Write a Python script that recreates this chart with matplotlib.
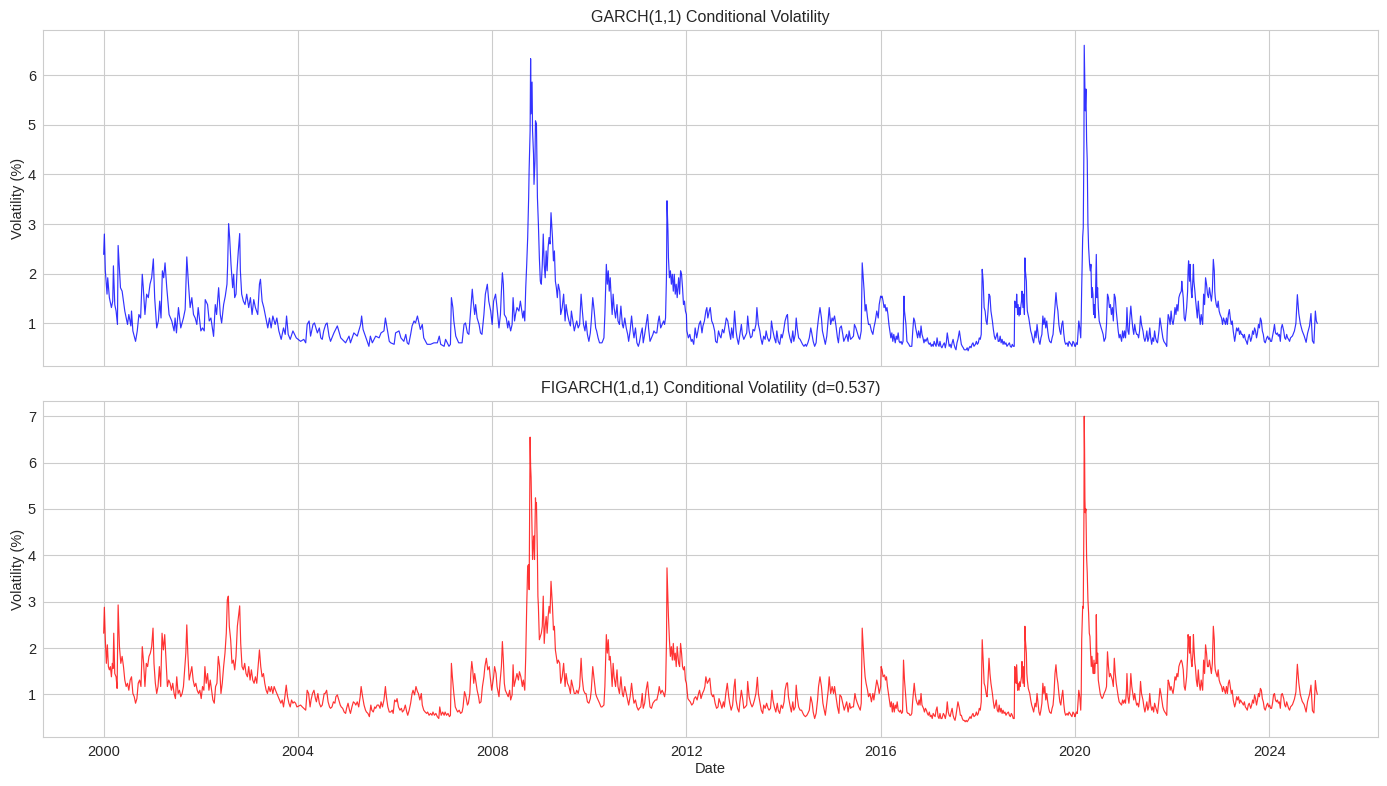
import numpy as np
import pandas as pd
import matplotlib
matplotlib.use("Agg")
import matplotlib.pyplot as plt

# ---------------- data: (decimal year, volatility %) ----------------
garch_2000_2004 = [
(2000.000,2.39),(2000.014,2.80),(2000.034,2.06),(2000.069,1.59),(2000.083,1.92),(2000.117,1.52),(2000.159,1.32),
(2000.186,1.45),(2000.200,2.16),(2000.228,1.38),(2000.255,1.25),(2000.283,0.98),(2000.297,2.57),(2000.345,1.72),
(2000.379,1.65),(2000.434,1.25),(2000.462,1.11),(2000.490,0.98),(2000.517,1.18),(2000.559,0.95),(2000.572,1.25),
(2000.600,0.85),(2000.655,0.64),(2000.690,0.85),(2000.724,1.18),(2000.759,1.11),(2000.793,1.99),(2000.814,1.72),
(2000.848,1.18),(2000.883,1.59),(2000.917,1.52),(2000.952,1.79),(2000.986,1.92),(2001.021,2.30),(2001.048,1.52),
(2001.090,0.91),(2001.124,1.05),(2001.152,1.45),(2001.179,1.11),(2001.207,2.06),(2001.234,1.92),(2001.262,2.22),
(2001.297,1.72),(2001.345,1.18),(2001.400,1.05),(2001.448,0.85),(2001.469,1.11),(2001.497,0.81),(2001.538,1.32),
(2001.586,0.91),(2001.641,1.11),(2001.676,1.28),(2001.710,2.34),(2001.745,1.79),(2001.779,1.32),(2001.814,1.52),
(2001.848,1.18),(2001.883,1.11),(2001.917,0.98),(2001.945,1.32),(2002.000,0.85),(2002.034,0.91),(2002.069,0.85),
(2002.090,1.48),(2002.138,1.38),(2002.172,1.05),(2002.207,1.11),(2002.262,0.74),(2002.297,1.38),(2002.324,1.18),
(2002.366,1.72),(2002.400,1.18),(2002.428,1.01),(2002.469,1.38),(2002.503,1.55),(2002.538,1.79),(2002.552,2.19),
(2002.572,3.01),(2002.593,2.73),(2002.621,2.19),(2002.655,1.72),(2002.676,1.99),(2002.697,1.52),(2002.724,1.59),
(2002.745,2.06),(2002.772,2.46),(2002.800,2.81),(2002.814,2.06),(2002.841,1.59),(2002.876,1.45),(2002.910,1.38),
(2002.945,1.59),(2002.986,1.32),(2003.021,1.52),(2003.055,1.18),(2003.090,1.48),(2003.124,1.32),(2003.172,1.18),
(2003.207,1.79),(2003.228,1.89),(2003.262,1.45),(2003.297,1.32),(2003.345,1.08),(2003.379,0.91),(2003.414,1.11),
(2003.448,0.91),(2003.483,1.15),(2003.531,0.98),(2003.566,1.11),(2003.607,0.85),(2003.655,0.68),(2003.703,0.91),
(2003.738,0.78),(2003.766,1.15),(2003.800,0.78),(2003.841,0.68),(2003.897,0.85),(2003.966,0.71),
]
garch_2004_2008 = [
(2004.055,0.64),(2004.120,0.68),(2004.160,0.61),(2004.190,0.98),(2004.230,1.05),(2004.260,0.745),(2004.310,0.98),
(2004.340,1.01),(2004.400,0.81),(2004.440,0.91),(2004.470,0.71),(2004.500,0.68),(2004.530,0.85),(2004.570,0.98),
(2004.600,1.01),(2004.640,0.745),(2004.670,0.64),(2004.740,0.81),(2004.810,0.95),(2004.880,0.71),(2004.950,0.64),
(2004.980,0.61),(2005.050,0.745),(2005.080,0.61),(2005.150,0.81),(2005.220,0.745),(2005.290,0.98),(2005.310,1.15),
(2005.340,0.88),(2005.410,0.68),(2005.460,0.54),(2005.490,0.745),(2005.530,0.61),(2005.600,0.745),(2005.670,0.71),
(2005.710,0.81),(2005.770,0.85),(2005.800,1.11),(2005.840,0.88),(2005.880,0.64),(2005.910,0.61),(2005.980,0.58),
(2006.010,0.81),(2006.080,0.85),(2006.120,0.71),(2006.180,0.64),(2006.220,0.78),(2006.250,0.61),(2006.280,0.58),
(2006.320,0.78),(2006.350,0.95),(2006.390,1.05),(2006.420,1.01),(2006.460,1.15),(2006.490,1.01),(2006.520,0.88),
(2006.560,0.98),(2006.590,0.71),(2006.660,0.58),(2006.730,0.58),(2006.800,0.61),(2006.870,0.61),(2006.910,0.745),
(2006.940,0.58),(2007.010,0.54),(2007.040,0.68),(2007.110,0.54),(2007.140,0.58),(2007.160,1.52),(2007.190,1.32),
(2007.210,1.05),(2007.250,0.745),(2007.310,0.61),(2007.380,0.61),(2007.420,0.98),(2007.450,1.01),(2007.490,0.81),
(2007.520,0.78),(2007.550,1.18),(2007.590,1.69),(2007.610,1.45),(2007.640,1.18),(2007.660,1.38),(2007.690,1.11),
(2007.730,0.98),(2007.760,0.81),(2007.790,0.78),(2007.830,1.18),(2007.860,1.59),(2007.900,1.79),(2007.930,1.45),
(2007.970,1.25),(2008.000,0.98),
]
garch_2008_2012 = [
(2008.03,1.45),(2008.07,1.59),(2008.10,1.32),(2008.14,0.91),(2008.17,1.18),(2008.19,1.65),(2008.21,2.02),(2008.23,1.79),
(2008.25,1.18),(2008.29,1.11),(2008.32,0.91),(2008.34,1.05),(2008.38,0.85),(2008.41,0.98),(2008.43,1.52),(2008.46,1.05),
(2008.48,1.18),(2008.51,1.32),(2008.55,1.25),(2008.58,1.45),(2008.60,1.32),(2008.63,1.11),(2008.65,1.25),(2008.67,1.05),
(2008.69,1.72),(2008.71,2.19),(2008.73,2.73),(2008.75,3.54),(2008.76,4.11),(2008.78,4.88),(2008.79,6.33),(2008.80,5.22),
(2008.82,5.86),(2008.83,4.88),(2008.85,4.41),(2008.86,3.80),(2008.88,4.28),(2008.89,5.08),(2008.91,5.02),(2008.92,4.21),
(2008.93,3.54),(2008.95,3.00),(2008.97,2.32),(2008.99,1.85),(2009.01,1.79),(2009.03,2.19),(2009.05,2.80),(2009.07,2.19),
(2009.09,1.92),(2009.11,2.46),(2009.13,2.06),(2009.15,2.53),(2009.17,2.73),(2009.19,2.60),(2009.21,3.23),(2009.24,2.73),
(2009.26,2.26),(2009.28,2.46),(2009.30,1.85),(2009.32,1.72),(2009.34,1.52),(2009.36,1.79),(2009.39,1.65),(2009.41,1.18),
(2009.44,1.32),(2009.47,1.59),(2009.50,1.05),(2009.52,1.38),(2009.55,1.18),(2009.58,1.05),(2009.61,0.95),(2009.63,1.25),
(2009.66,1.05),(2009.69,0.85),(2009.72,0.98),(2009.74,1.05),(2009.77,0.91),(2009.80,0.98),(2009.83,1.59),(2009.85,1.32),
(2009.88,0.98),(2009.91,0.85),(2009.93,1.05),(2009.96,0.78),(2009.99,0.64),(2010.02,0.81),(2010.04,1.05),(2010.07,1.52),
(2010.10,1.25),(2010.13,0.91),(2010.15,0.85),(2010.18,0.71),(2010.21,0.61),(2010.24,0.61),(2010.26,0.61),(2010.30,0.71),
(2010.32,1.18),(2010.35,2.19),(2010.37,1.79),(2010.39,2.06),(2010.41,1.65),(2010.43,1.92),(2010.45,1.52),(2010.47,1.18),
(2010.49,1.59),(2010.51,1.32),(2010.54,1.11),(2010.57,1.38),(2010.59,1.05),(2010.62,0.98),(2010.65,1.35),(2010.68,0.98),
(2010.70,0.91),(2010.73,1.11),(2010.76,0.91),(2010.79,0.78),(2010.81,0.64),(2010.84,0.85),(2010.87,1.15),(2010.90,0.85),
(2010.92,0.71),(2010.95,0.91),(2010.98,0.61),(2011.01,0.54),(2011.03,0.61),(2011.06,0.78),(2011.09,0.91),(2011.11,0.61),
(2011.14,0.78),(2011.17,0.98),(2011.20,1.18),(2011.22,0.91),(2011.25,0.64),(2011.28,0.71),(2011.31,0.78),(2011.33,0.85),
(2011.36,0.81),(2011.39,0.81),(2011.42,1.05),(2011.44,1.15),(2011.47,0.91),(2011.50,0.98),(2011.53,1.05),(2011.55,0.98),
(2011.57,1.11),(2011.59,1.99),(2011.60,3.47),(2011.62,2.86),(2011.63,2.32),(2011.65,1.92),(2011.67,2.06),(2011.69,1.79),
(2011.71,1.99),(2011.73,1.65),(2011.75,1.99),(2011.77,1.59),(2011.79,1.79),(2011.81,1.52),(2011.84,1.92),(2011.86,1.59),
(2011.88,2.06),(2011.90,1.99),(2011.92,1.72),(2011.94,1.38),(2011.96,1.45),(2011.98,1.25),(2012.00,1.18),
]
garch_2012_2016 = [
(2012.01,0.85),(2012.04,0.71),(2012.07,0.78),(2012.10,0.64),(2012.12,0.68),(2012.15,0.58),(2012.18,0.91),(2012.21,0.71),
(2012.23,0.81),(2012.26,0.98),(2012.29,1.05),(2012.32,0.81),(2012.34,0.95),(2012.37,1.05),(2012.40,1.25),(2012.42,1.32),
(2012.44,1.11),(2012.47,1.25),(2012.49,1.32),(2012.52,1.05),(2012.55,0.98),(2012.58,0.85),(2012.60,0.64),(2012.63,0.61),
(2012.66,0.85),(2012.69,0.745),(2012.71,0.71),(2012.74,0.88),(2012.77,0.81),(2012.80,0.98),(2012.82,1.11),(2012.85,1.05),
(2012.88,0.85),(2012.91,0.68),(2012.93,0.91),(2012.96,0.71),(2012.99,1.25),(2013.02,0.85),(2013.04,0.71),(2013.07,0.58),
(2013.10,0.78),(2013.13,0.98),(2013.15,0.78),(2013.18,0.68),(2013.21,0.745),(2013.24,0.81),(2013.26,1.15),(2013.29,0.85),
(2013.32,0.71),(2013.35,0.745),(2013.37,0.88),(2013.40,0.85),(2013.43,0.98),(2013.45,1.32),(2013.48,0.98),(2013.51,0.85),
(2013.53,0.71),(2013.56,0.58),(2013.59,0.745),(2013.62,0.68),(2013.64,0.85),(2013.67,0.71),(2013.70,0.64),(2013.73,0.71),
(2013.75,1.05),(2013.78,0.85),(2013.81,0.71),(2013.84,0.61),(2013.86,0.85),(2013.89,0.64),(2013.92,0.58),(2013.95,0.78),
(2013.97,0.71),(2014.00,0.85),(2014.03,1.05),(2014.06,1.15),(2014.08,1.18),(2014.10,0.85),(2014.13,0.71),(2014.16,0.61),
(2014.19,0.85),(2014.21,0.64),(2014.24,0.78),(2014.26,1.11),(2014.28,0.91),(2014.31,0.71),(2014.34,0.68),(2014.36,0.64),
(2014.39,0.58),(2014.42,0.54),(2014.45,0.58),(2014.47,0.54),(2014.50,0.61),(2014.53,0.71),(2014.56,0.91),(2014.58,0.81),
(2014.61,0.64),(2014.64,0.54),(2014.67,0.61),(2014.69,0.85),(2014.72,1.11),(2014.75,1.32),(2014.78,1.11),(2014.80,0.85),
(2014.83,0.71),(2014.86,0.58),(2014.89,0.745),(2014.91,0.98),(2014.94,1.32),(2014.97,0.98),(2015.00,1.11),(2015.02,1.05),
(2015.05,1.15),(2015.08,0.95),(2015.11,0.71),(2015.13,0.61),(2015.16,0.91),(2015.19,0.95),(2015.22,0.78),(2015.24,0.64),
(2015.27,0.71),(2015.30,0.78),(2015.33,0.64),(2015.35,0.85),(2015.38,0.68),(2015.41,0.71),(2015.44,0.745),(2015.46,0.98),
(2015.49,0.91),(2015.52,0.81),(2015.55,0.71),(2015.57,0.68),(2015.60,0.85),(2015.62,2.22),(2015.64,1.92),(2015.66,1.65),
(2015.68,1.25),(2015.70,1.38),(2015.73,1.11),(2015.75,0.98),(2015.78,0.98),(2015.81,0.85),(2015.84,0.78),(2015.86,0.91),
(2015.89,1.05),(2015.92,1.25),(2015.95,1.11),(2015.97,1.38),(2016.00,1.55),
]
garch_2016_2020 = [
(2016.01,1.52),(2016.03,1.55),(2016.05,1.45),(2016.07,1.32),(2016.09,1.38),(2016.11,1.25),(2016.13,1.32),(2016.15,1.18),
(2016.17,0.98),(2016.19,0.85),(2016.21,0.71),(2016.23,0.81),(2016.25,0.64),(2016.27,0.78),(2016.30,0.61),(2016.32,0.745),
(2016.34,0.68),(2016.36,0.81),(2016.38,0.64),(2016.40,0.61),(2016.42,0.64),(2016.44,0.58),(2016.46,0.64),(2016.48,1.55),
(2016.49,1.25),(2016.52,0.98),(2016.54,0.64),(2016.56,0.61),(2016.58,0.58),(2016.60,0.54),(2016.62,0.54),(2016.64,0.54),
(2016.66,0.85),(2016.68,1.11),(2016.70,1.05),(2016.72,0.91),(2016.74,0.81),(2016.76,0.71),(2016.78,0.85),(2016.81,0.71),
(2016.83,0.95),(2016.85,0.78),(2016.87,0.71),(2016.89,0.61),(2016.91,0.68),(2016.93,0.64),(2016.96,0.71),(2016.98,0.61),
(2017.00,0.58),(2017.02,0.61),(2017.04,0.54),(2017.06,0.58),(2017.08,0.54),(2017.10,0.64),(2017.12,0.58),(2017.14,0.54),
(2017.16,0.71),(2017.18,0.58),(2017.20,0.54),(2017.22,0.64),(2017.24,0.54),(2017.26,0.51),(2017.29,0.58),(2017.31,0.61),
(2017.33,0.51),(2017.35,0.61),(2017.37,0.81),(2017.39,0.68),(2017.41,0.54),(2017.43,0.58),(2017.45,0.51),(2017.47,0.61),
(2017.49,0.68),(2017.51,0.58),(2017.53,0.51),(2017.55,0.47),(2017.57,0.61),(2017.59,0.68),(2017.62,0.85),(2017.64,0.71),
(2017.66,0.58),(2017.68,0.54),(2017.70,0.51),(2017.72,0.47),(2017.74,0.47),(2017.76,0.47),(2017.78,0.51),(2017.80,0.45),
(2017.82,0.51),(2017.84,0.54),(2017.86,0.51),(2017.88,0.58),(2017.90,0.61),(2017.92,0.54),(2017.95,0.58),(2017.97,0.64),
(2017.99,0.58),(2018.01,0.61),(2018.03,0.71),(2018.05,0.68),(2018.07,0.78),(2018.09,2.09),(2018.11,1.85),(2018.13,1.32),
(2018.15,1.25),(2018.17,1.05),(2018.19,0.98),(2018.21,1.25),(2018.23,1.59),(2018.25,1.55),(2018.27,1.25),(2018.30,1.05),
(2018.32,0.88),(2018.34,0.745),(2018.36,0.68),(2018.38,0.745),(2018.40,0.81),(2018.42,0.64),(2018.44,0.64),(2018.46,0.745),
(2018.48,0.61),(2018.50,0.68),(2018.52,0.58),(2018.54,0.64),(2018.56,0.58),(2018.58,0.61),(2018.60,0.54),(2018.63,0.58),
(2018.65,0.61),(2018.67,0.54),(2018.69,0.52),(2018.71,0.58),(2018.73,0.54),(2018.75,0.54),(2018.76,1.45),(2018.78,1.38),
(2018.79,1.32),(2018.80,1.59),(2018.82,1.18),(2018.83,1.38),(2018.85,1.15),(2018.86,1.32),(2018.87,1.18),(2018.89,1.38),
(2018.90,1.45),(2018.91,1.65),(2018.93,1.32),(2018.94,1.59),(2018.96,1.18),(2018.97,2.32),(2018.98,2.06),(2019.00,1.85),
(2019.01,1.45),(2019.02,1.25),(2019.04,1.15),(2019.05,1.11),(2019.07,0.98),(2019.09,0.85),(2019.11,0.78),(2019.13,0.68),
(2019.15,0.61),(2019.18,0.85),(2019.20,0.71),(2019.22,0.98),(2019.24,0.81),(2019.26,0.64),(2019.28,0.58),(2019.30,0.71),
(2019.32,0.78),(2019.34,1.15),(2019.36,0.98),(2019.38,1.11),(2019.40,0.91),(2019.42,1.05),(2019.44,0.85),(2019.46,0.71),
(2019.48,0.64),(2019.51,0.61),(2019.53,0.71),(2019.55,0.78),(2019.57,1.05),(2019.59,1.32),(2019.61,1.62),(2019.63,1.38),
(2019.65,1.25),(2019.67,0.98),(2019.69,0.85),(2019.71,0.78),(2019.73,0.98),(2019.75,1.05),(2019.77,0.81),(2019.79,0.64),
(2019.81,0.58),(2019.84,0.61),(2019.86,0.54),(2019.88,0.64),(2019.90,0.61),(2019.92,0.58),(2019.94,0.54),(2019.96,0.64),
(2019.98,0.61),(2020.00,0.54),
]
garch_2020_2025 = [
(2020.010,0.54),(2020.030,0.61),(2020.050,0.58),(2020.080,1.05),(2020.100,0.91),(2020.120,0.71),(2020.130,1.11),
(2020.140,1.72),(2020.150,2.19),(2020.160,2.73),(2020.172,2.93),(2020.186,4.61),(2020.192,6.60),(2020.206,5.69),
(2020.213,5.28),(2020.227,5.72),(2020.241,4.68),(2020.254,4.28),(2020.268,3.00),(2020.282,2.53),(2020.302,2.19),
(2020.316,2.06),(2020.330,2.19),(2020.344,1.52),(2020.358,1.72),(2020.371,1.59),(2020.385,1.18),(2020.399,1.38),
(2020.412,1.11),(2020.426,1.65),(2020.440,2.39),(2020.454,1.52),(2020.467,1.72),(2020.481,1.32),(2020.50,1.05),
(2020.52,0.98),(2020.54,0.91),(2020.56,0.85),(2020.58,0.78),(2020.60,0.64),(2020.63,0.71),(2020.65,0.98),(2020.67,1.59),
(2020.69,1.52),(2020.71,1.32),(2020.73,1.38),(2020.75,1.18),(2020.77,1.32),(2020.79,1.05),(2020.81,1.59),(2020.83,1.52),
(2020.85,1.25),(2020.87,1.05),(2020.89,0.85),(2020.91,0.71),(2020.93,0.78),(2020.96,0.64),(2020.98,0.85),(2021.00,0.71),
(2021.02,0.85),(2021.04,0.71),(2021.06,0.98),(2021.07,1.32),(2021.09,0.85),(2021.11,0.78),(2021.13,1.11),(2021.15,1.35),
(2021.17,1.11),(2021.19,0.91),(2021.21,0.78),(2021.23,0.98),(2021.25,0.85),(2021.27,0.78),(2021.29,0.78),(2021.31,0.71),
(2021.33,0.85),(2021.35,1.15),(2021.37,0.98),(2021.40,0.85),(2021.42,0.71),(2021.44,0.64),(2021.46,0.71),(2021.48,0.85),
(2021.50,0.64),(2021.52,0.71),(2021.54,0.91),(2021.56,0.71),(2021.58,0.58),(2021.60,0.71),(2021.62,0.64),(2021.64,0.85),
(2021.66,0.71),(2021.68,0.64),(2021.70,0.61),(2021.73,0.85),(2021.75,1.11),(2021.77,0.98),(2021.79,0.85),(2021.81,0.71),
(2021.83,0.64),(2021.85,0.61),(2021.87,0.58),(2021.89,0.54),(2021.90,0.85),(2021.92,1.18),(2021.94,1.11),(2021.96,0.98),
(2021.98,1.25),(2022.00,1.05),(2022.02,0.98),(2022.04,1.11),(2022.06,1.32),(2022.08,1.18),(2022.10,1.38),(2022.12,1.25),
(2022.14,1.52),(2022.16,1.59),(2022.19,1.65),(2022.20,1.85),(2022.21,1.72),(2022.23,1.52),(2022.25,1.11),(2022.27,1.05),
(2022.30,1.32),(2022.32,1.65),(2022.33,2.06),(2022.34,2.26),(2022.36,1.85),(2022.37,2.19),(2022.38,1.92),(2022.40,1.59),
(2022.41,1.52),(2022.43,1.92),(2022.44,2.19),(2022.45,1.85),(2022.47,1.65),(2022.48,1.52),(2022.50,1.32),(2022.52,1.11),
(2022.54,1.45),(2022.56,1.18),(2022.58,0.98),(2022.60,1.18),(2022.63,0.98),(2022.65,1.59),(2022.67,1.38),(2022.69,1.92),
(2022.71,1.79),(2022.73,1.59),(2022.75,1.52),(2022.77,1.72),(2022.79,1.59),(2022.81,1.45),(2022.83,1.65),(2022.85,2.29),
(2022.87,2.06),(2022.88,1.65),(2022.89,1.52),(2022.91,1.38),(2022.93,1.32),(2022.95,1.45),(2022.97,1.25),(2022.99,1.18),
(2023.02,1.11),(2023.04,0.98),(2023.06,1.11),(2023.08,1.05),(2023.10,0.98),(2023.12,1.11),(2023.14,0.98),(2023.16,1.18),
(2023.18,1.28),(2023.20,1.11),(2023.22,0.98),(2023.24,1.05),(2023.26,0.85),(2023.29,0.64),(2023.31,0.78),(2023.33,0.91),
(2023.35,0.85),(2023.37,0.91),(2023.39,0.78),(2023.41,0.85),(2023.43,0.78),(2023.45,0.78),(2023.47,0.71),(2023.49,0.78),
(2023.51,0.68),(2023.53,0.64),(2023.55,0.58),(2023.57,0.71),(2023.59,0.78),(2023.62,0.64),(2023.64,0.71),(2023.66,0.85),
(2023.68,0.78),(2023.70,0.91),(2023.72,0.85),(2023.74,0.71),(2023.76,0.81),(2023.78,0.98),(2023.80,0.91),(2023.82,1.11),
(2023.84,1.05),(2023.86,0.85),(2023.88,0.78),(2023.90,0.64),(2023.92,0.61),(2023.95,0.71),(2023.97,0.745),(2023.99,0.68),
(2024.01,0.71),(2024.03,0.64),(2024.05,0.64),(2024.07,0.745),(2024.09,0.85),(2024.11,0.98),(2024.13,0.81),(2024.15,0.78),
(2024.17,0.81),(2024.19,0.745),(2024.21,0.78),(2024.23,0.64),(2024.25,0.91),(2024.27,0.98),(2024.30,0.85),(2024.32,0.71),
(2024.34,0.68),(2024.36,0.78),(2024.38,0.71),(2024.40,0.68),(2024.42,0.64),(2024.44,0.71),(2024.48,0.75),(2024.52,0.85),
(2024.55,1.00),(2024.58,1.58),(2024.61,1.20),(2024.64,1.00),(2024.68,0.85),(2024.72,0.75),(2024.76,0.62),(2024.79,0.80),
(2024.83,0.95),(2024.86,1.20),(2024.89,0.65),(2024.92,0.60),(2024.95,1.25),(2024.97,1.05),(2024.99,1.00),
]

figarch_2000_2004 = [
(2000.000,2.32),(2000.014,2.88),(2000.034,2.18),(2000.055,1.67),(2000.076,2.07),(2000.097,1.60),(2000.117,1.53),
(2000.138,1.60),(2000.159,1.38),(2000.179,1.67),(2000.193,1.56),(2000.207,2.32),(2000.228,1.45),(2000.255,1.38),
(2000.276,1.13),(2000.297,2.93),(2000.324,2.03),(2000.352,1.67),(2000.379,1.82),(2000.407,1.60),(2000.434,1.31),
(2000.462,1.17),(2000.490,1.24),(2000.517,1.09),(2000.545,1.31),(2000.572,1.38),(2000.600,1.02),(2000.628,0.95),
(2000.655,0.81),(2000.683,0.91),(2000.710,1.24),(2000.738,1.31),(2000.766,1.17),(2000.793,2.03),(2000.821,1.67),
(2000.848,1.17),(2000.876,1.67),(2000.903,1.60),(2000.931,1.82),(2000.959,1.89),(2000.986,2.03),(2001.014,2.43),
(2001.034,1.67),(2001.062,1.24),(2001.090,1.02),(2001.117,1.17),(2001.145,1.60),(2001.172,1.17),(2001.200,2.32),
(2001.228,1.96),(2001.255,2.29),(2001.283,1.74),(2001.310,1.17),(2001.338,1.31),(2001.366,1.24),(2001.393,1.09),
(2001.421,1.24),(2001.448,1.02),(2001.476,0.91),(2001.503,1.38),(2001.531,1.02),(2001.559,1.09),(2001.586,0.95),
(2001.614,1.02),(2001.641,1.17),(2001.669,1.60),(2001.690,1.89),(2001.710,2.50),(2001.731,1.89),(2001.759,1.31),
(2001.786,1.45),(2001.814,1.60),(2001.841,1.31),(2001.869,1.17),(2001.897,1.24),(2001.924,1.09),(2001.952,1.02),
(2001.979,1.09),(2002.007,0.91),(2002.034,1.17),(2002.062,1.09),(2002.083,1.60),(2002.110,1.24),(2002.138,1.45),
(2002.166,1.09),(2002.193,1.31),(2002.221,1.09),(2002.248,0.88),(2002.276,0.81),(2002.303,1.17),(2002.331,1.24),
(2002.359,1.82),(2002.386,1.60),(2002.414,1.02),(2002.441,1.24),(2002.469,1.60),(2002.497,1.89),(2002.524,2.32),
(2002.545,3.04),(2002.566,3.12),(2002.586,2.47),(2002.614,2.18),(2002.641,1.67),(2002.669,1.74),(2002.697,1.53),
(2002.724,1.82),(2002.752,2.47),(2002.779,2.72),(2002.800,2.91),(2002.821,2.10),(2002.848,1.60),(2002.876,1.53),
(2002.903,1.67),(2002.931,1.45),(2002.959,1.38),(2002.986,1.60),(2003.014,1.31),(2003.041,1.53),(2003.069,1.31),
(2003.097,1.24),(2003.124,1.38),(2003.152,1.24),(2003.179,1.60),(2003.207,1.96),(2003.234,1.60),(2003.262,1.38),
(2003.290,1.45),(2003.317,1.24),(2003.345,1.09),(2003.372,1.02),(2003.400,1.17),(2003.428,1.06),(2003.455,1.17),
(2003.483,1.02),(2003.510,1.17),(2003.538,1.09),(2003.566,1.02),(2003.593,0.95),(2003.621,0.88),(2003.648,0.81),
(2003.676,0.88),(2003.703,0.73),(2003.731,0.95),(2003.759,1.20),(2003.786,0.95),(2003.814,0.81),(2003.841,0.73),
(2003.869,0.88),(2003.897,0.81),(2003.924,0.84),(2003.952,0.81),(2003.979,0.73),
]
figarch_2004_2008 = [
(2004.055,0.77),(2004.09,0.73),(2004.12,0.70),(2004.16,0.66),(2004.19,1.09),(2004.22,1.02),(2004.25,0.73),(2004.27,0.88),
(2004.30,1.02),(2004.33,1.09),(2004.36,0.91),(2004.38,0.84),(2004.41,1.02),(2004.44,0.81),(2004.47,0.73),(2004.50,0.77),
(2004.54,1.02),(2004.56,1.02),(2004.59,1.09),(2004.62,0.84),(2004.65,0.73),(2004.67,0.70),(2004.70,0.73),(2004.73,0.84),
(2004.76,0.81),(2004.78,0.95),(2004.81,0.99),(2004.84,0.88),(2004.87,0.77),(2004.89,0.73),(2004.92,0.70),(2004.95,0.62),
(2004.98,0.59),(2005.00,0.70),(2005.03,0.81),(2005.06,0.66),(2005.08,0.59),(2005.11,0.73),(2005.14,0.84),(2005.17,0.81),
(2005.19,0.77),(2005.22,0.84),(2005.25,0.73),(2005.28,0.95),(2005.30,1.17),(2005.33,0.95),(2005.36,0.77),(2005.39,0.66),
(2005.41,0.62),(2005.44,0.59),(2005.47,0.52),(2005.50,0.77),(2005.52,0.66),(2005.55,0.62),(2005.58,0.73),(2005.60,0.70),
(2005.63,0.77),(2005.66,0.77),(2005.69,0.70),(2005.71,0.84),(2005.74,0.73),(2005.77,0.88),(2005.80,1.17),(2005.82,0.95),
(2005.85,0.73),(2005.88,0.62),(2005.91,0.62),(2005.94,0.66),(2005.96,0.59),(2005.99,0.88),(2006.02,0.84),(2006.04,0.91),
(2006.07,0.73),(2006.10,0.66),(2006.13,0.70),(2006.15,0.62),(2006.18,0.66),(2006.21,0.77),(2006.24,0.62),(2006.26,0.55),
(2006.29,0.66),(2006.32,0.81),(2006.35,1.02),(2006.37,1.09),(2006.40,0.99),(2006.43,1.17),(2006.46,1.06),(2006.48,1.02),
(2006.51,0.88),(2006.54,1.02),(2006.56,0.77),(2006.59,0.66),(2006.62,0.62),(2006.65,0.59),(2006.67,0.62),(2006.70,0.55),
(2006.73,0.59),(2006.76,0.55),(2006.78,0.62),(2006.81,0.55),(2006.84,0.59),(2006.87,0.52),(2006.90,0.48),(2006.92,0.73),
(2006.95,0.55),(2006.98,0.62),(2007.01,0.55),(2007.03,0.62),(2007.06,0.55),(2007.09,0.59),(2007.12,0.52),(2007.14,0.55),
(2007.16,1.67),(2007.18,1.38),(2007.21,1.02),(2007.24,0.73),(2007.27,0.66),(2007.29,0.62),(2007.32,0.66),(2007.35,0.59),
(2007.38,0.62),(2007.40,0.73),(2007.43,1.06),(2007.46,0.95),(2007.49,0.77),(2007.51,0.81),(2007.54,1.02),(2007.56,1.45),
(2007.58,1.71),(2007.60,1.53),(2007.62,1.24),(2007.64,1.45),(2007.66,1.31),(2007.69,1.09),(2007.72,0.95),(2007.74,0.81),
(2007.77,0.84),(2007.80,1.17),(2007.83,1.38),(2007.85,1.60),(2007.88,1.78),(2007.91,1.53),(2007.94,1.60),(2007.96,1.38),
(2007.99,1.09),
]
figarch_2008_2012 = [
(2008.03,1.38),(2008.05,1.60),(2008.08,1.45),(2008.10,1.17),(2008.14,0.95),(2008.16,1.24),(2008.19,1.60),(2008.21,2.14),
(2008.23,1.74),(2008.25,1.24),(2008.27,1.09),(2008.30,1.02),(2008.33,0.95),(2008.36,1.09),(2008.38,0.88),(2008.41,0.99),
(2008.43,1.64),(2008.45,1.17),(2008.48,1.31),(2008.51,1.45),(2008.54,1.31),(2008.56,1.49),(2008.59,1.38),(2008.62,1.17),
(2008.64,1.31),(2008.67,1.09),(2008.69,1.82),(2008.71,2.90),(2008.73,3.77),(2008.75,3.80),(2008.76,3.26),(2008.78,6.55),
(2008.79,5.93),(2008.80,5.68),(2008.82,4.49),(2008.83,3.91),(2008.85,4.34),(2008.86,4.42),(2008.87,3.91),(2008.89,5.24),
(2008.90,5.00),(2008.91,5.14),(2008.93,3.98),(2008.94,3.12),(2008.95,2.90),(2008.97,2.18),(2008.99,2.25),(2009.01,2.32),
(2009.03,2.47),(2009.05,3.12),(2009.07,2.10),(2009.09,2.47),(2009.11,2.68),(2009.13,2.32),(2009.15,2.68),(2009.17,2.90),
(2009.19,2.75),(2009.21,3.44),(2009.24,2.90),(2009.26,2.39),(2009.28,2.47),(2009.30,1.96),(2009.32,1.82),(2009.34,1.67),
(2009.36,1.74),(2009.39,1.67),(2009.41,1.24),(2009.44,1.38),(2009.47,1.67),(2009.50,1.17),(2009.52,1.45),(2009.55,1.24),
(2009.58,1.17),(2009.61,1.02),(2009.63,1.31),(2009.66,1.17),(2009.69,1.02),(2009.72,1.02),(2009.74,1.09),(2009.77,1.02),
(2009.80,1.17),(2009.83,1.78),(2009.85,1.38),(2009.88,1.09),(2009.91,1.02),(2009.93,1.02),(2009.96,0.84),(2009.99,0.81),
(2010.02,0.91),(2010.04,1.09),(2010.07,1.60),(2010.10,1.31),(2010.13,1.02),(2010.15,0.95),(2010.18,0.88),(2010.21,0.81),
(2010.24,0.73),(2010.26,0.73),(2010.30,0.77),(2010.32,1.17),(2010.35,2.29),(2010.37,1.89),(2010.39,2.18),(2010.41,1.74),
(2010.43,1.82),(2010.45,1.53),(2010.47,1.17),(2010.49,1.67),(2010.51,1.38),(2010.54,1.17),(2010.57,1.53),(2010.59,1.17),
(2010.62,1.02),(2010.65,1.38),(2010.68,1.02),(2010.70,0.95),(2010.73,1.17),(2010.76,1.02),(2010.79,0.88),(2010.81,0.77),
(2010.84,0.95),(2010.87,1.24),(2010.90,0.95),(2010.92,0.81),(2010.95,0.88),(2010.98,0.73),(2011.01,0.66),(2011.03,0.70),
(2011.06,0.73),(2011.09,1.02),(2011.11,0.70),(2011.14,0.81),(2011.17,1.09),(2011.20,1.27),(2011.22,1.02),(2011.25,0.73),
(2011.28,0.70),(2011.31,0.81),(2011.33,0.84),(2011.36,0.88),(2011.39,0.88),(2011.42,1.02),(2011.44,1.17),(2011.47,1.02),
(2011.50,1.09),(2011.53,1.02),(2011.55,0.95),(2011.57,1.09),(2011.59,2.18),(2011.60,3.73),(2011.62,3.04),(2011.63,2.68),
(2011.65,2.18),(2011.67,1.82),(2011.69,2.03),(2011.71,1.74),(2011.73,2.10),(2011.75,1.74),(2011.77,1.89),(2011.79,1.60),
(2011.81,2.03),(2011.84,1.67),(2011.86,1.60),(2011.88,2.10),(2011.90,1.89),(2011.92,1.60),(2011.94,1.53),(2011.96,1.60),
(2011.98,1.31),(2012.00,1.24),
]
figarch_2012_2016 = [
(2012.03,0.91),(2012.05,0.88),(2012.08,0.84),(2012.11,0.77),(2012.14,0.81),(2012.16,0.91),(2012.19,0.95),(2012.22,0.88),
(2012.25,1.02),(2012.27,1.09),(2012.30,0.91),(2012.33,1.02),(2012.36,1.09),(2012.38,1.17),(2012.40,1.38),(2012.43,1.24),
(2012.45,1.28),(2012.48,1.35),(2012.51,1.02),(2012.54,0.95),(2012.56,0.99),(2012.59,0.81),(2012.62,0.70),(2012.65,0.73),
(2012.67,0.91),(2012.70,0.81),(2012.73,0.70),(2012.76,0.84),(2012.78,0.73),(2012.81,1.02),(2012.84,1.24),(2012.87,0.95),
(2012.89,0.81),(2012.92,0.66),(2012.95,0.77),(2012.98,1.17),(2013.00,1.33),(2013.02,0.88),(2013.05,0.70),(2013.08,0.62),
(2013.10,0.84),(2013.13,1.09),(2013.16,0.88),(2013.18,0.70),(2013.21,0.73),(2013.24,0.77),(2013.26,1.28),(2013.29,0.95),
(2013.32,0.81),(2013.35,0.73),(2013.37,0.77),(2013.40,0.88),(2013.43,1.02),(2013.46,1.37),(2013.48,1.02),(2013.51,0.84),
(2013.54,0.66),(2013.57,0.59),(2013.59,0.77),(2013.62,0.70),(2013.65,0.81),(2013.68,0.70),(2013.70,0.66),(2013.73,0.70),
(2013.76,1.09),(2013.78,0.88),(2013.81,0.73),(2013.84,0.62),(2013.87,0.81),(2013.89,0.66),(2013.92,0.59),(2013.95,0.77),
(2013.98,0.70),(2014.01,0.84),(2014.03,1.09),(2014.06,1.24),(2014.08,1.25),(2014.10,0.95),(2014.13,0.77),(2014.16,0.62),
(2014.19,0.84),(2014.21,0.66),(2014.24,0.73),(2014.26,1.20),(2014.28,0.95),(2014.31,0.73),(2014.34,0.66),(2014.37,0.66),
(2014.40,0.59),(2014.42,0.55),(2014.45,0.52),(2014.48,0.55),(2014.50,0.59),(2014.53,0.66),(2014.56,0.95),(2014.59,0.81),
(2014.61,0.62),(2014.64,0.48),(2014.67,0.59),(2014.70,0.88),(2014.72,1.17),(2014.75,1.38),(2014.78,1.17),(2014.81,0.81),
(2014.83,0.70),(2014.86,0.55),(2014.89,0.81),(2014.92,1.09),(2014.94,1.38),(2014.97,1.02),(2015.00,1.17),(2015.03,1.02),
(2015.05,1.17),(2015.08,0.95),(2015.11,0.73),(2015.14,0.59),(2015.16,0.99),(2015.19,0.95),(2015.22,0.81),(2015.25,0.66),
(2015.27,0.73),(2015.30,0.84),(2015.33,0.62),(2015.36,0.81),(2015.38,0.70),(2015.41,0.73),(2015.44,0.73),(2015.47,1.02),
(2015.49,0.91),(2015.52,0.81),(2015.55,0.73),(2015.58,0.66),(2015.60,0.81),(2015.62,2.43),(2015.64,2.03),(2015.66,1.67),
(2015.68,1.38),(2015.70,1.24),(2015.73,1.09),(2015.75,0.95),(2015.78,1.02),(2015.81,0.84),(2015.84,1.02),(2015.86,0.88),
(2015.89,1.09),(2015.92,1.31),(2015.95,1.17),(2015.97,1.02),(2016.00,1.17),
]
figarch_2016_2020 = [
(2016.01,1.60),(2016.03,1.53),(2016.05,1.38),(2016.08,1.42),(2016.10,1.31),(2016.12,1.38),(2016.14,1.17),(2016.16,1.02),
(2016.18,0.88),(2016.20,0.73),(2016.22,0.84),(2016.24,0.62),(2016.26,0.81),(2016.28,0.62),(2016.30,0.77),(2016.32,0.70),
(2016.34,0.84),(2016.36,0.66),(2016.39,0.62),(2016.41,0.66),(2016.43,0.59),(2016.45,0.62),(2016.47,1.74),(2016.49,1.31),
(2016.52,0.88),(2016.54,0.62),(2016.56,0.59),(2016.58,0.59),(2016.60,0.55),(2016.62,0.55),(2016.64,0.59),(2016.66,0.88),
(2016.69,1.24),(2016.71,1.02),(2016.73,0.88),(2016.75,0.81),(2016.77,0.77),(2016.79,0.88),(2016.81,0.77),(2016.83,1.02),
(2016.85,0.77),(2016.88,0.70),(2016.90,0.62),(2016.92,0.70),(2016.94,0.66),(2016.96,0.59),(2016.98,0.55),(2017.00,0.62),
(2017.02,0.52),(2017.04,0.55),(2017.06,0.48),(2017.08,0.59),(2017.10,0.55),(2017.12,0.52),(2017.14,0.66),(2017.16,0.73),
(2017.18,0.52),(2017.20,0.48),(2017.22,0.59),(2017.24,0.48),(2017.26,0.48),(2017.29,0.59),(2017.31,0.55),(2017.33,0.48),
(2017.35,0.59),(2017.37,0.84),(2017.39,0.62),(2017.41,0.55),(2017.43,0.52),(2017.45,0.62),(2017.47,0.70),(2017.49,0.55),
(2017.51,0.48),(2017.53,0.44),(2017.55,0.55),(2017.57,0.70),(2017.59,0.84),(2017.62,0.70),(2017.64,0.55),(2017.66,0.55),
(2017.68,0.48),(2017.70,0.44),(2017.72,0.44),(2017.74,0.41),(2017.76,0.44),(2017.78,0.41),(2017.80,0.44),(2017.82,0.48),
(2017.84,0.52),(2017.86,0.48),(2017.88,0.55),(2017.90,0.59),(2017.92,0.52),(2017.95,0.55),(2017.97,0.62),(2017.99,0.55),
(2018.01,0.59),(2018.03,0.70),(2018.05,0.66),(2018.07,0.84),(2018.09,2.18),(2018.11,1.74),(2018.13,1.24),(2018.15,1.17),
(2018.17,1.02),(2018.19,0.95),(2018.21,1.31),(2018.23,1.78),(2018.25,1.45),(2018.27,1.24),(2018.30,1.02),(2018.32,0.84),
(2018.34,0.70),(2018.36,0.77),(2018.38,0.88),(2018.40,0.66),(2018.42,0.62),(2018.44,0.77),(2018.46,0.62),(2018.48,0.70),
(2018.50,0.59),(2018.52,0.66),(2018.54,0.59),(2018.56,0.62),(2018.58,0.55),(2018.60,0.59),(2018.63,0.62),(2018.65,0.55),
(2018.67,0.52),(2018.69,0.59),(2018.71,0.55),(2018.73,0.48),(2018.75,0.48),(2018.76,1.60),(2018.78,1.53),(2018.79,1.24),
(2018.80,1.64),(2018.82,1.09),(2018.83,1.24),(2018.85,1.09),(2018.86,1.27),(2018.87,1.17),(2018.89,1.31),(2018.90,1.38),
(2018.91,1.71),(2018.93,1.24),(2018.94,1.60),(2018.96,1.17),(2018.97,2.47),(2018.98,2.18),(2019.00,1.89),(2019.01,1.45),
(2019.02,1.31),(2019.04,1.13),(2019.05,1.09),(2019.07,1.02),(2019.09,0.88),(2019.11,0.77),(2019.13,0.70),(2019.15,0.62),
(2019.18,0.81),(2019.20,0.73),(2019.22,1.02),(2019.24,0.81),(2019.26,0.62),(2019.28,0.55),(2019.30,0.66),(2019.32,0.81),
(2019.34,1.24),(2019.36,1.02),(2019.38,1.17),(2019.40,0.88),(2019.42,1.02),(2019.44,0.84),(2019.46,0.70),(2019.48,0.62),
(2019.51,0.59),(2019.53,0.70),(2019.55,0.77),(2019.57,1.02),(2019.59,1.45),(2019.61,1.64),(2019.63,1.38),(2019.65,1.24),
(2019.67,1.02),(2019.69,0.84),(2019.71,0.77),(2019.73,0.95),(2019.75,1.09),(2019.77,0.81),(2019.79,0.62),(2019.81,0.55),
(2019.84,0.59),(2019.86,0.55),(2019.88,0.62),(2019.90,0.59),(2019.92,0.55),(2019.94,0.52),(2019.96,0.62),(2019.98,0.59),
(2020.00,0.52),
]
figarch_2020_2025 = [
(2020.010,0.55),(2020.030,0.62),(2020.050,0.59),(2020.080,1.09),(2020.100,0.95),(2020.120,0.66),(2020.130,1.02),
(2020.140,2.18),(2020.160,2.90),(2020.172,2.86),(2020.186,4.85),(2020.192,7.00),(2020.199,6.29),(2020.206,5.21),
(2020.213,4.92),(2020.227,5.00),(2020.241,3.95),(2020.254,3.62),(2020.268,3.04),(2020.282,2.75),(2020.296,2.32),
(2020.309,2.25),(2020.323,1.89),(2020.337,1.60),(2020.351,1.82),(2020.364,1.60),(2020.378,1.45),(2020.392,1.74),
(2020.406,1.45),(2020.419,1.67),(2020.433,1.67),(2020.440,2.72),(2020.454,1.67),(2020.467,1.89),(2020.481,1.31),
(2020.50,1.17),(2020.52,1.02),(2020.54,0.95),(2020.56,0.91),(2020.58,0.95),(2020.60,1.02),(2020.63,1.09),(2020.65,1.17),
(2020.67,1.92),(2020.69,1.60),(2020.71,1.38),(2020.73,1.45),(2020.75,1.38),(2020.77,1.31),(2020.79,1.17),(2020.81,1.78),
(2020.83,1.45),(2020.85,1.24),(2020.87,1.09),(2020.89,0.95),(2020.91,0.84),(2020.93,0.81),(2020.96,0.77),(2020.98,0.88),
(2021.00,0.81),(2021.02,0.88),(2021.04,0.81),(2021.06,1.09),(2021.07,1.45),(2021.09,0.95),(2021.11,0.81),(2021.13,1.02),
(2021.15,1.45),(2021.17,1.17),(2021.19,1.02),(2021.21,0.88),(2021.23,1.02),(2021.25,0.88),(2021.27,0.77),(2021.29,0.81),
(2021.31,0.73),(2021.33,0.88),(2021.35,1.28),(2021.37,1.02),(2021.40,0.88),(2021.42,0.73),(2021.44,0.62),(2021.46,0.73),
(2021.48,0.84),(2021.50,0.66),(2021.52,0.73),(2021.54,1.02),(2021.56,0.77),(2021.58,0.66),(2021.60,0.73),(2021.62,0.62),
(2021.64,0.81),(2021.66,0.73),(2021.68,0.66),(2021.70,0.59),(2021.73,0.88),(2021.75,1.13),(2021.77,1.02),(2021.79,0.88),
(2021.81,0.73),(2021.83,0.66),(2021.85,0.62),(2021.87,0.59),(2021.89,0.55),(2021.90,0.88),(2021.92,1.31),(2021.94,1.24),
(2021.96,1.09),(2021.98,1.17),(2022.00,1.09),(2022.02,1.02),(2022.04,1.17),(2022.06,1.38),(2022.08,1.31),(2022.10,1.45),
(2022.12,1.38),(2022.14,1.60),(2022.16,1.67),(2022.19,1.74),(2022.20,1.71),(2022.21,1.67),(2022.23,1.53),(2022.25,1.17),
(2022.27,1.09),(2022.30,1.38),(2022.32,1.82),(2022.33,2.29),(2022.34,2.18),(2022.36,1.89),(2022.37,2.25),(2022.38,1.96),
(2022.40,1.67),(2022.41,1.60),(2022.43,1.89),(2022.44,2.29),(2022.45,2.03),(2022.47,1.67),(2022.48,1.60),(2022.50,1.31),
(2022.52,1.17),(2022.54,1.53),(2022.56,1.24),(2022.58,1.09),(2022.60,1.31),(2022.63,1.09),(2022.65,1.74),(2022.67,1.45),
(2022.69,2.07),(2022.71,1.89),(2022.73,1.60),(2022.75,1.60),(2022.77,1.74),(2022.79,1.60),(2022.81,1.45),(2022.83,1.67),
(2022.85,2.47),(2022.87,2.18),(2022.88,1.67),(2022.89,1.53),(2022.91,1.45),(2022.93,1.38),(2022.95,1.53),(2022.97,1.31),
(2022.99,1.24),(2023.02,1.17),(2023.04,1.06),(2023.06,1.17),(2023.08,1.09),(2023.10,1.02),(2023.12,1.17),(2023.14,1.02),
(2023.16,1.24),(2023.18,1.31),(2023.20,1.17),(2023.22,1.02),(2023.24,1.09),(2023.26,0.88),(2023.29,0.73),(2023.31,0.81),
(2023.33,0.95),(2023.35,0.88),(2023.37,0.95),(2023.39,0.81),(2023.41,0.88),(2023.43,0.84),(2023.45,0.81),(2023.47,0.77),
(2023.49,0.84),(2023.51,0.73),(2023.53,0.70),(2023.55,0.66),(2023.57,0.77),(2023.59,0.81),(2023.62,0.70),(2023.64,0.77),
(2023.66,0.88),(2023.68,0.81),(2023.70,0.99),(2023.72,0.91),(2023.74,0.77),(2023.76,0.88),(2023.78,1.02),(2023.80,0.95),
(2023.82,1.13),(2023.84,1.09),(2023.86,0.91),(2023.88,0.84),(2023.90,0.70),(2023.92,0.66),(2023.95,0.77),(2023.97,0.81),
(2023.99,0.73),(2024.01,0.77),(2024.03,0.70),(2024.05,0.70),(2024.07,0.81),(2024.09,0.99),(2024.11,1.02),(2024.13,0.88),
(2024.15,0.84),(2024.17,0.88),(2024.19,0.81),(2024.21,0.84),(2024.23,0.70),(2024.25,0.99),(2024.27,1.02),(2024.30,0.91),
(2024.32,0.77),(2024.34,0.73),(2024.36,0.84),(2024.38,0.77),(2024.40,0.70),(2024.42,0.66),(2024.44,0.73),(2024.48,0.78),
(2024.52,0.90),(2024.55,1.05),(2024.58,1.65),(2024.61,1.25),(2024.64,1.00),(2024.68,0.85),(2024.72,0.78),(2024.76,0.62),
(2024.79,0.85),(2024.83,1.00),(2024.86,1.20),(2024.89,0.65),(2024.92,0.60),(2024.95,1.30),(2024.97,1.10),(2024.99,1.00),
]

garch_title = "GARCH(1,1) Conditional Volatility"
figarch_title = "FIGARCH(1,d,1) Conditional Volatility (d=0.537)"
y_label = "Volatility (%)"
x_label = "Date"


def to_series(*segments):
    pts = sorted(p for seg in segments for p in seg)
    yrs = np.array([p[0] for p in pts])
    vals = np.array([p[1] for p in pts])
    base = pd.to_datetime([f"{int(y)}-01-01" for y in yrs])
    nxt = pd.to_datetime([f"{int(y) + 1}-01-01" for y in yrs])
    dates = base + (nxt - base) * (yrs - np.floor(yrs))
    return dates, vals


g_dates, g_vals = to_series(garch_2000_2004, garch_2004_2008, garch_2008_2012,
                            garch_2012_2016, garch_2016_2020, garch_2020_2025)
f_dates, f_vals = to_series(figarch_2000_2004, figarch_2004_2008, figarch_2008_2012,
                            figarch_2012_2016, figarch_2016_2020, figarch_2020_2025)

plt.style.use("seaborn-v0_8-whitegrid")
fig, (ax1, ax2) = plt.subplots(2, 1, figsize=(13.87, 7.86), dpi=100, sharex=True)
fig.subplots_adjust(left=0.031, right=0.9935, top=0.9618, bottom=0.0623, hspace=0.104)

ax1.plot(g_dates, g_vals, color="blue", linewidth=0.85, alpha=0.8)
ax1.set_title(garch_title, fontsize=11.5)
ax1.set_ylabel(y_label, fontsize=10.5, labelpad=2)

ax2.plot(f_dates, f_vals, color="red", linewidth=0.85, alpha=0.8)
ax2.set_title(figarch_title, fontsize=11.5)
ax2.set_ylabel(y_label, fontsize=10.5, labelpad=2)
ax2.set_xlabel(x_label, fontsize=10.5, labelpad=2)

for ax in (ax1, ax2):
    ax.tick_params(axis="x", labelsize=10.5, pad=6)
    ax.tick_params(axis="y", labelsize=10.5, pad=5)
    for s in ax.spines.values():
        s.set_visible(True)
        s.set_color("#cccccc")
        s.set_linewidth(0.8)

fig.savefig("out.png", dpi=100)
